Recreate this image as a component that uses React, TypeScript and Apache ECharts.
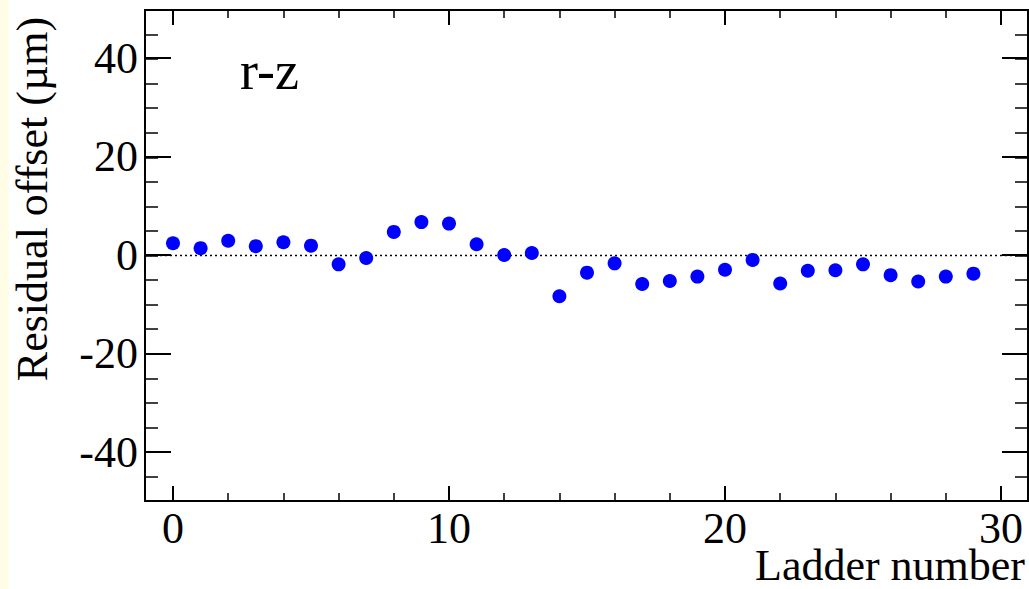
import React, { useEffect, useRef } from "react";
import * as echarts from "echarts";

const ladders: number[] = [0, 1, 2, 3, 4, 5, 6, 7, 8, 9, 10, 11, 12, 13, 14, 15, 16, 17, 18, 19, 20, 21, 22, 23, 24, 25, 26, 27, 28, 29];
const offsets: number[] = [2.5, 1.5, 3.0, 1.9, 2.7, 2.0, -1.8, -0.5, 4.8, 6.8, 6.5, 2.3, 0.1, 0.5, -8.3, -3.5, -1.6, -5.8, -5.2, -4.3, -2.9, -0.9, -5.7, -3.1, -3.0, -1.8, -4.0, -5.3, -4.3, -3.7];
const zeroLine: number[][] = [[-1, 0], [31, 0]];
const xTitle = "Ladder number";
const yTitle = "Residual offset (\u00b5m)";
const panelLabel = "r-z";

const FONT = "'Liberation Serif', 'Times New Roman', serif";

export default function App() {
  const ref = useRef<HTMLDivElement>(null);
  useEffect(() => {
    document.body.style.margin = "0";
    const chart = echarts.init(ref.current!, null, { renderer: "svg" });
    const tickStyle = { color: "#000", width: 2 };
    const minorStyle = { color: "#000", width: 1.5 };
    const label = { fontSize: 44, color: "#000", fontFamily: FONT };
    const noLine = { show: false, onZero: false };
    chart.setOption({
      animation: false,
      backgroundColor: "#fff",
      grid: [
        { left: 173, right: 28, top: 10, bottom: 88 },
        { left: 145, right: 1, top: 58, bottom: 137 },
        { left: 145, right: 1, top: 10, bottom: 88, show: true, borderColor: "#000", borderWidth: 2, backgroundColor: "transparent" },
      ],
      xAxis: [
        {
          type: "value", gridIndex: 0, min: 0, max: 30, interval: 10, position: "bottom",
          axisLine: noLine,
          axisTick: { show: true, inside: true, length: 15, lineStyle: tickStyle },
          minorTick: { show: true, splitNumber: 5, length: 8, lineStyle: minorStyle },
          axisLabel: { ...label, margin: 5 },
          splitLine: { show: false },
        },
        {
          type: "value", gridIndex: 0, min: 0, max: 30, interval: 10, position: "top",
          axisLine: noLine,
          axisTick: { show: true, inside: true, length: 15, lineStyle: tickStyle },
          minorTick: { show: true, splitNumber: 5, length: 8, lineStyle: minorStyle },
          axisLabel: { show: false },
          splitLine: { show: false },
        },
        { type: "value", gridIndex: 1, min: 0, max: 1, show: false, axisLine: noLine },
        { type: "value", gridIndex: 2, min: -1, max: 31, show: false, axisLine: noLine },
      ],
      yAxis: [
        { type: "value", gridIndex: 0, min: -50, max: 50, show: false, axisLine: noLine },
        {
          type: "value", gridIndex: 1, min: -40, max: 40, interval: 20, position: "left",
          axisLine: noLine,
          axisTick: { show: true, inside: true, length: 26, lineStyle: tickStyle },
          axisLabel: { ...label, margin: 7 },
          splitLine: { show: false },
        },
        {
          type: "value", gridIndex: 1, min: -40, max: 40, interval: 20, position: "right",
          axisLine: noLine,
          axisTick: { show: true, inside: true, length: 26, lineStyle: tickStyle },
          axisLabel: { show: false },
          splitLine: { show: false },
        },
        {
          type: "value", gridIndex: 2, min: -50, max: 50, interval: 5, position: "left",
          axisLine: noLine,
          axisTick: { show: true, inside: true, length: 13, lineStyle: minorStyle },
          axisLabel: { show: false },
          splitLine: { show: false },
        },
        {
          type: "value", gridIndex: 2, min: -50, max: 50, interval: 5, position: "right",
          axisLine: noLine,
          axisTick: { show: true, inside: true, length: 13, lineStyle: minorStyle },
          axisLabel: { show: false },
          splitLine: { show: false },
        },
      ],
      series: [
        {
          type: "line", xAxisIndex: 3, yAxisIndex: 3, data: zeroLine, symbol: "none", silent: true,
          lineStyle: { color: "#000", width: 1.3, type: [2, 3] }, z: 1,
        },
        {
          type: "scatter", xAxisIndex: 0, yAxisIndex: 0,
          data: ladders.map((x, i) => [x, offsets[i]]),
          symbolSize: 14, itemStyle: { color: "#0000ff", opacity: 1 }, z: 3,
        },
      ],
      graphic: [
        { type: "rect", shape: { x: 0, y: 0, width: 9, height: 589 }, style: { fill: "#fffde6" }, silent: true },
        {
          type: "text", x: 240, y: 71,
          style: { text: panelLabel, fontSize: 54, fontFamily: FONT, fill: "#000", align: "left", verticalAlign: "middle" },
        },
        {
          type: "text", x: 1025, y: 565,
          style: { text: xTitle, fontSize: 44, fontFamily: FONT, fill: "#000", align: "right", verticalAlign: "middle" },
        },
        {
          type: "text", x: 32, y: 199, rotation: Math.PI / 2,
          style: { text: yTitle, fontSize: 44, fontFamily: FONT, fill: "#000", align: "center", verticalAlign: "middle" },
        },
      ],
    });
    return () => chart.dispose();
  }, []);
  return <div ref={ref} style={{ width: 1029, height: 589 }} />;
}
